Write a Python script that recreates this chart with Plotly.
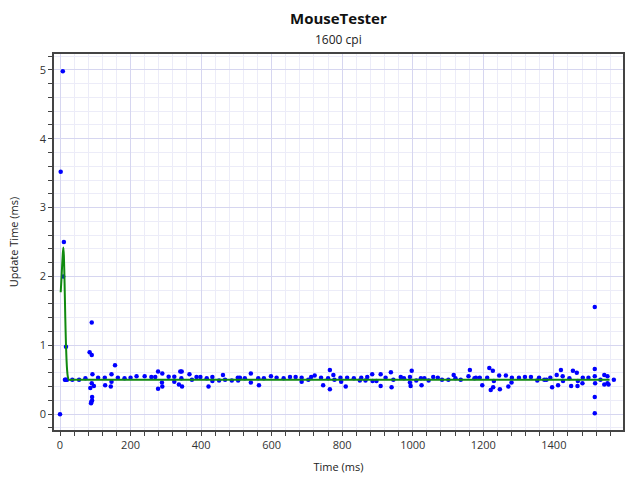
import plotly.graph_objects as go

# Scatter points: time (ms) and update time (ms)
pt_time = [0, 2, 8, 9, 11, 14, 16, 17, 20, 35, 54, 72, 84, 86, 88, 89, 90, 90, 90, 91, 91, 92, 96, 108, 127, 128,
           144, 146, 146, 156, 164, 183, 200, 217, 240, 259, 270, 278, 278, 289, 290, 290, 308, 324, 324, 337,
           341, 344, 345, 346, 367, 374, 387, 398, 416, 421, 432, 432, 451, 462, 468, 487, 504, 505, 510, 524,
           541, 541, 562, 564, 578, 598, 614, 634, 652, 668, 685, 685, 704, 712, 722, 740, 746, 760, 765, 765,
           775, 778, 795, 797, 810, 814, 833, 850, 854, 866, 871, 885, 886, 897, 909, 909, 923, 938, 940, 945,
           966, 975, 992, 992, 994, 997, 1010, 1023, 1025, 1033, 1045, 1058, 1071, 1083, 1101, 1116, 1121,
           1136, 1158, 1162, 1175, 1179, 1190, 1197, 1211, 1217, 1221, 1227, 1228, 1230, 1245, 1247, 1264,
           1271, 1280, 1281, 1301, 1318, 1335, 1353, 1358, 1373, 1379, 1390, 1395, 1408, 1412, 1420, 1425,
           1426, 1444, 1449, 1454, 1465, 1467, 1468, 1481, 1482, 1498, 1516, 1516, 1516, 1517, 1516, 1516,
           1532, 1543, 1543, 1552, 1552, 1555, 1570]
pt_value = [0.0, 3.52, 4.98, 2.0, 2.5, 0.5, 0.5, 0.98, 0.5, 0.5, 0.5, 0.52, 0.90, 0.38, 0.16, 0.18, 1.33, 0.86,
            0.45, 0.20, 0.25, 0.58, 0.41, 0.53, 0.53, 0.42, 0.40, 0.58, 0.47, 0.71, 0.53, 0.52, 0.53, 0.55,
            0.55, 0.54, 0.54, 0.62, 0.37, 0.46, 0.59, 0.40, 0.545, 0.545, 0.47, 0.43, 0.62, 0.52, 0.62, 0.40,
            0.58, 0.5, 0.54, 0.54, 0.52, 0.40, 0.54, 0.48, 0.49, 0.57, 0.5, 0.49, 0.53, 0.49, 0.53, 0.52, 0.59,
            0.46, 0.52, 0.42, 0.52, 0.55, 0.53, 0.52, 0.54, 0.54, 0.53, 0.47, 0.5, 0.54, 0.56, 0.53, 0.42, 0.52,
            0.64, 0.36, 0.57, 0.5, 0.53, 0.47, 0.40, 0.53, 0.52, 0.49, 0.53, 0.49, 0.54, 0.58, 0.48, 0.48, 0.58,
            0.41, 0.53, 0.61, 0.39, 0.5, 0.54, 0.52, 0.54, 0.46, 0.41, 0.63, 0.49, 0.52, 0.42, 0.52, 0.49, 0.54,
            0.53, 0.5, 0.5, 0.57, 0.52, 0.5, 0.55, 0.64, 0.52, 0.53, 0.53, 0.42, 0.53, 0.67, 0.35, 0.63, 0.39,
            0.48, 0.56, 0.36, 0.56, 0.40, 0.46, 0.53, 0.53, 0.54, 0.54, 0.49, 0.53, 0.5, 0.5, 0.53, 0.39, 0.57,
            0.42, 0.64, 0.55, 0.48, 0.52, 0.41, 0.63, 0.60, 0.41, 0.48, 0.45, 0.53, 0.53, 1.555, 0.655, 0.55,
            0.45, 0.25, 0.015, 0.5, 0.57, 0.43, 0.55, 0.45, 0.43, 0.5]

# Smoothed green line
line_time = [2, 4, 6, 8, 9.5, 11, 13, 15, 17, 20, 22, 25, 40, 1558]
line_value = [1.77, 1.95, 2.15, 2.33, 2.42, 2.3, 1.9, 1.4, 1.0, 0.65, 0.55, 0.5, 0.5, 0.5]

FONT = "Open Sans"

fig = go.Figure()
fig.add_trace(go.Scatter(x=pt_time, y=pt_value, mode="markers",
                         marker=dict(color="#0000ff", size=4.5, line=dict(width=0)),
                         showlegend=False))
fig.add_trace(go.Scatter(x=line_time, y=line_value, mode="lines",
                         line=dict(color="#108a10", width=2, shape="spline", smoothing=0.6),
                         showlegend=False))

axis_common = dict(
    showline=True, linecolor="#444444", linewidth=1.5, mirror=True,
    ticks="outside", ticklen=4, tickcolor="#444444", tickwidth=1,
    showgrid=True, gridcolor="#d6d6f0", gridwidth=1, zeroline=False, automargin=False,
    tickfont=dict(family=FONT, size=11, color="#333333"),
)

fig.update_xaxes(**axis_common, range=[-17, 1596], dtick=200, tick0=0, tickformat="d",
                 minor=dict(dtick=40, tick0=0, showgrid=True, gridcolor="#ececf8", ticks="outside",
                            ticklen=4, tickcolor="#444444"),
                 title=dict(text="Time (ms)", font=dict(family=FONT, size=11, color="#222222"), standoff=12))
fig.update_yaxes(**axis_common, range=[-0.23, 5.23], dtick=1, tick0=0,
                 minor=dict(dtick=0.2, tick0=0, showgrid=True, gridcolor="#ececf8", ticks="outside",
                            ticklen=4, tickcolor="#444444"),
                 title=dict(text="Update Time (ms)", font=dict(family=FONT, size=11, color="#222222"), standoff=19))

fig.update_layout(
    width=640, height=480,
    margin=dict(l=54, r=17, t=54, b=50),
    plot_bgcolor="white", paper_bgcolor="white",
    font=dict(family=FONT, color="#222222"),
    annotations=[
        dict(text="<b>MouseTester</b>", xref="paper", yref="paper", x=0.5, y=1.095,
             showarrow=False, xanchor="center", yanchor="middle",
             font=dict(family=FONT, size=15, color="#111111")),
        dict(text="1600 cpi", xref="paper", yref="paper", x=0.5, y=1.0373,
             showarrow=False, xanchor="center", yanchor="middle",
             font=dict(family=FONT, size=12, color="#222222")),
    ],
)

fig.write_html("out.html", config={"displayModeBar": False},
               post_script="document.body.style.margin='0';")
